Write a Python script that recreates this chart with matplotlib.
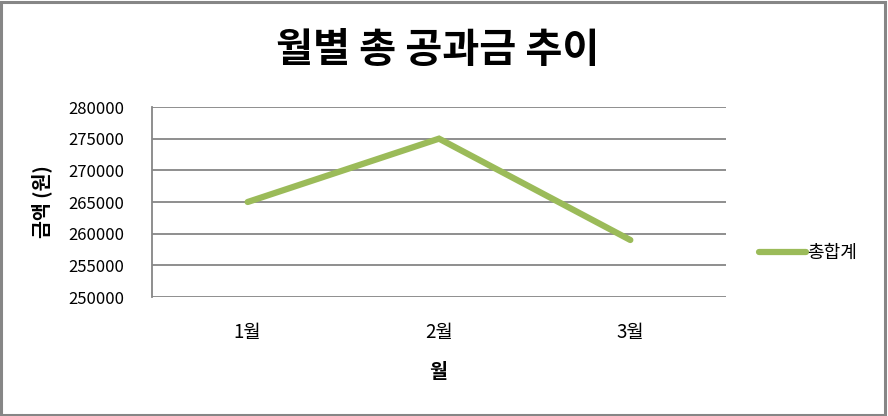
import matplotlib
matplotlib.use("Agg")
import matplotlib.pyplot as plt
from matplotlib.patches import Rectangle

plt.rcParams['font.family'] = ['Noto Sans CJK KR', 'DejaVu Sans']

months = ['1월', '2월', '3월']
totals = [265000, 275000, 259000]
yticks = [250000, 255000, 260000, 265000, 270000, 275000, 280000]

fig = plt.figure(figsize=(8.88, 4.16), dpi=100)
ax = fig.add_axes([152/888, 1-297/416, 574/888, 190/416])

x = range(len(months))
ax.plot(x, totals, color='#9BBB59', linewidth=4.5, solid_capstyle='round',
        solid_joinstyle='miter', label='총합계', zorder=3)
ax.set_xlim(-0.5, len(months)-0.5)
ax.set_ylim(yticks[0], yticks[-1])
ax.set_yticks(yticks)
ax.set_yticklabels([str(v) for v in yticks])
ax.set_xticks(list(x))
ax.set_xticklabels(months)
ax.tick_params(axis='both', length=0, colors='black')
ax.tick_params(axis='y', pad=20, labelsize=12)
ax.tick_params(axis='x', pad=18, labelsize=13.5)
ax.grid(axis='y', color='#868686', linewidth=1.3)
for s in ['top', 'right', 'bottom']:
    ax.spines[s].set_visible(False)
ax.spines['left'].set_color('#868686')
ax.spines['left'].set_linewidth(1.3)

fig.text(438/888, 1-50/416, '월별 총 공과금 추이', ha='center', va='center',
         fontsize=29, fontweight='bold')
fig.text(42/888, 1-202/416, '금액 (원)', ha='center', va='center', rotation=90,
         fontsize=14, fontweight='bold')
fig.text(438/888, 1-372/416, '월', ha='center', va='center', fontsize=14,
         fontweight='bold')

leg = ax.legend(loc='center left', bbox_to_anchor=(750/888, 1-253/416),
                bbox_transform=fig.transFigure, frameon=False, fontsize=13,
                handlelength=2.6, handletextpad=0.05, borderpad=0)

fig.patches.append(Rectangle((0.0015, 0.003), 0.995, 0.993, transform=fig.transFigure,
                             fill=False, edgecolor='#868686', linewidth=2.2))
fig.savefig('out.png', dpi=100)
